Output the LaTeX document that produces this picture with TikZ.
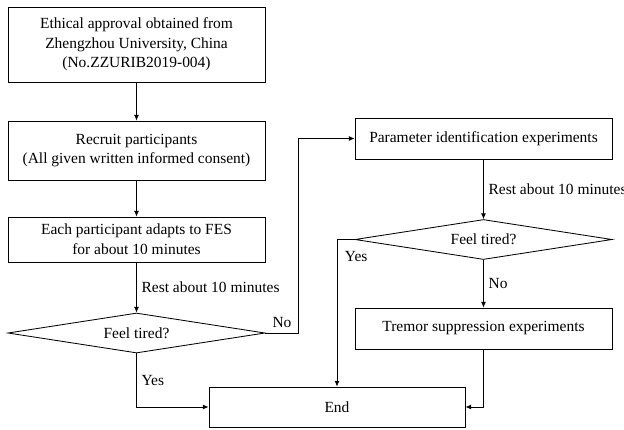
\documentclass[tikz,border=0pt]{standalone}
\usepackage{fontspec}
\setmainfont{Liberation Serif}
\usetikzlibrary{arrows.meta,positioning,shapes.geometric}

\begin{document}
\begin{tikzpicture}[x=0.025cm,y=-0.025cm,
    box/.style={draw,line width=0.6pt,align=center,minimum width=6.425cm,inner sep=2pt,font=\fontsize{11}{14}\selectfont},
    decision/.style={draw,diamond,aspect=6.4,line width=0.6pt,minimum width=6.425cm,minimum height=1cm,inner sep=0pt,font=\fontsize{11}{14}\selectfont},
    lbl/.style={font=\fontsize{11}{14}\selectfont},
    arr/.style={line width=0.6pt,-{Latex[length=4pt,width=3.5pt]}}]
    \useasboundingbox (0,0) rectangle (624,429);
    % left column
    \node[box,minimum height=1.875cm] (ethic) at (136.5,44.5) {Ethical approval obtained from\\Zhengzhou University, China\\(No.ZZURIB2019-004)};
    \node[box,minimum height=1.475cm] (recruit) at (136.5,150.5) {Recruit participants\\(All given written informed consent)};
    \node[box,minimum height=1.125cm] (adapt) at (136.5,239.5) {Each participant adapts to FES\\for about 10 minutes};
    \node[decision] (tired1) at (136.5,333) {Feel tired?};
    % right column
    \node[box,minimum height=1.025cm] (param) at (483.5,138.5) {Parameter identification experiments};
    \node[decision] (tired2) at (483.5,239.5) {Feel tired?};
    \node[box,minimum height=1.025cm] (tremor) at (483.5,328.5) {Tremor suppression experiments};
    \node[box,minimum width=6.4cm,minimum height=1cm] (end) at (337,407) {End};
    % connectors
    \draw[arr] (ethic) -- (recruit);
    \draw[arr] (recruit) -- (adapt);
    \draw[arr] (adapt) -- node[lbl,right] {Rest about 10 minutes} (tired1);
    \draw[arr] (tired1.east) -- node[lbl,above] {No} ++(33,0) |- (param.west);
    \draw[arr] (tired1.south) |- node[lbl,pos=0.25,right] {Yes} (end.west);
    \draw[arr] (param) -- node[lbl,right] {Rest about 10 minutes} (tired2);
    \draw[arr] (tired2.west) -| node[lbl,pos=0.5,below right,xshift=2pt,yshift=-5pt] {Yes} (end.north);
    \draw[arr] (tired2) -- node[lbl,right] {No} (tremor);
    \draw[arr] (tremor.south) |- (end.east);
\end{tikzpicture}
\end{document}
